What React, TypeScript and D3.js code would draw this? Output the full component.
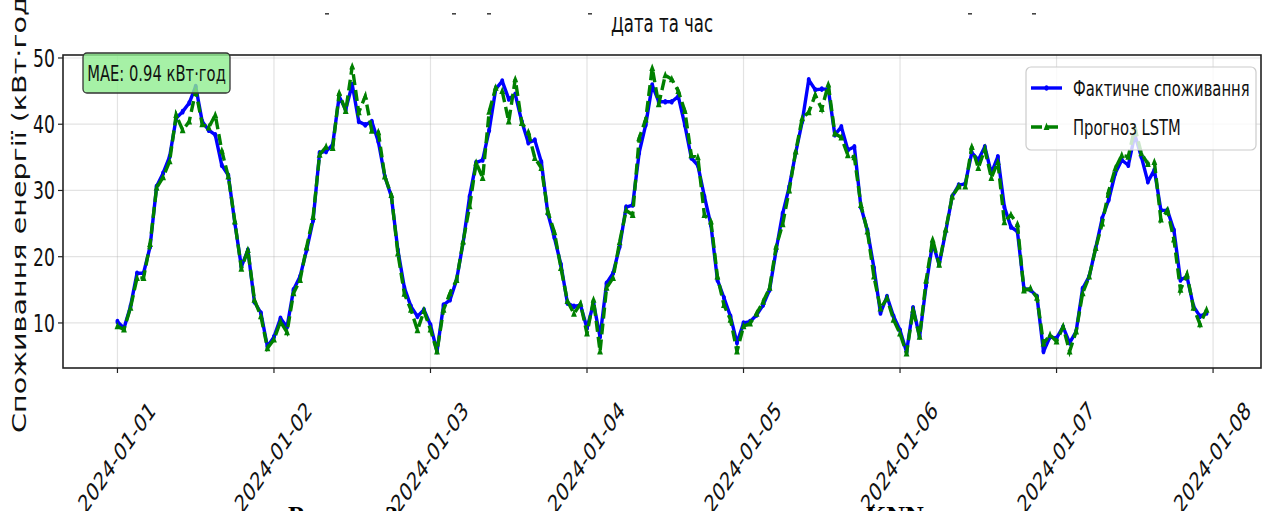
import React, { useEffect, useRef } from "react";
import * as d3 from "d3";

// hourly values, 2024-01-01 00:00 .. 2024-01-07 23:00
const actual = [
  10.2, 9.2, 12.5, 17.5, 17.5, 21.5, 30.6, 32.6, 35.1, 40.9, 41.9, 43.2, 45.7, 40.4, 39.1, 38.4, 33.8, 32.3, 25.1, 18.5, 21.0, 13.2, 11.5, 6.4,
  7.9, 10.7, 9.4, 15.0, 17.0, 21.0, 25.5, 35.7, 35.9, 36.9, 44.2, 42.2, 46.0, 40.4, 39.9, 40.4, 37.4, 32.1, 29.1, 21.0, 15.3, 12.5, 11.0, 12.0,
  9.7, 5.7, 12.7, 13.5, 16.5, 22.1, 29.1, 34.2, 34.6, 39.1, 45.3, 46.5, 43.8, 44.5, 40.4, 37.2, 37.6, 34.3, 26.5, 22.9, 18.8, 13.0, 12.5, 12.7,
  9.2, 13.0, 7.9, 16.0, 17.5, 21.5, 27.5, 27.8, 35.7, 39.9, 45.9, 43.4, 43.4, 43.4, 44.2, 39.9, 34.9, 33.8, 29.1, 24.8, 16.5, 13.8, 11.0, 7.0,
  10.0, 10.2, 11.2, 12.7, 15.0, 21.0, 26.5, 30.5, 35.7, 40.4, 46.7, 45.2, 45.3, 45.3, 38.4, 39.6, 36.1, 36.6, 27.5, 24.0, 18.3, 11.5, 14.0, 11.0,
  8.9, 5.6, 12.3, 7.9, 15.7, 22.1, 18.8, 23.8, 29.1, 30.8, 31.0, 35.7, 34.6, 36.6, 32.6, 35.1, 27.5, 24.5, 23.8, 15.2, 15.0, 14.0, 5.7, 7.9,
  7.7, 9.4, 7.0, 8.7, 15.2, 17.0, 21.3, 25.8, 28.6, 32.6, 34.6, 33.8, 38.4, 35.1, 31.3, 33.1, 27.0, 27.0, 24.0, 16.5, 17.0, 12.5, 11.0, 11.5,
];

const forecast = [
  9.5, 9.0, 12.3, 16.8, 16.8, 21.9, 30.4, 32.0, 34.4, 41.4, 39.1, 40.4, 45.0, 40.0, 39.5, 41.4, 36.0, 32.1, 25.3, 18.2, 21.0, 13.5, 11.0, 6.2,
  7.5, 10.2, 8.6, 14.5, 16.5, 21.4, 26.0, 35.4, 36.6, 36.4, 44.7, 42.0, 48.7, 41.8, 44.2, 39.0, 38.8, 32.1, 29.3, 20.5, 14.4, 12.0, 8.9, 11.8,
  9.0, 5.7, 12.0, 14.5, 16.5, 22.3, 27.6, 34.2, 31.9, 41.9, 45.5, 45.0, 40.4, 46.8, 40.2, 38.8, 34.9, 33.4, 26.8, 23.7, 18.3, 13.3, 11.4, 12.9,
  8.4, 13.5, 5.7, 15.3, 16.8, 22.2, 27.0, 26.3, 37.9, 40.7, 48.5, 43.0, 47.4, 46.8, 45.0, 42.0, 35.3, 35.0, 26.3, 25.3, 17.0, 12.7, 10.5, 5.7,
  9.5, 9.9, 11.4, 13.2, 15.3, 21.5, 24.9, 30.0, 35.9, 40.9, 41.8, 44.4, 42.3, 46.0, 38.6, 38.0, 35.3, 35.0, 27.8, 23.8, 17.0, 12.2, 13.7, 10.5,
  8.4, 5.4, 12.0, 7.9, 16.4, 22.6, 18.8, 24.1, 29.1, 30.6, 30.6, 36.6, 33.4, 36.2, 31.9, 34.3, 25.2, 26.3, 24.9, 14.9, 15.2, 13.8, 6.9, 8.2,
  7.2, 9.4, 5.7, 8.7, 14.5, 17.0, 21.3, 25.0, 29.9, 33.3, 35.3, 35.1, 39.5, 35.6, 34.0, 34.3, 25.6, 27.0, 22.6, 15.0, 17.3, 12.3, 9.8, 12.0,
];

const dayLabels = [
  "2024-01-01", "2024-01-02", "2024-01-03", "2024-01-04",
  "2024-01-05", "2024-01-06", "2024-01-07", "2024-01-08",
];
const yTicks = [10, 20, 30, 40, 50];
const seriesNames = ["Фактичне споживання", "Прогноз LSTM"];
const maeText = "MAE: 0.94 кВт·год";
const yLabel = "Споживання енергії (кВт·год)";
const xLabelAbove = "Дата та час";
const captionParts = ["Рисунок", "3 – результати прогнозування методом", "KNN"];

const W = 1266;
const H = 511;
const SX = 0.69; // the picture is squeezed horizontally
const FONT = "'DejaVu Sans', sans-serif";

const App = () => {
  const svgRef = useRef(null);

  useEffect(() => {
    const svg = d3.select(svgRef.current);
    svg.selectAll("*").remove();

    const box = { left: 63, right: 1261, top: 55, bottom: 368 };
    const hour = 3600 * 1000;
    const start = Date.UTC(2024, 0, 1);
    const times = actual.map((_, i) => new Date(start + i * hour));
    const span = (actual.length - 1) * hour;

    const x = d3
      .scaleUtc()
      .domain([start - 0.05 * span, start + 1.05 * span])
      .range([box.left, box.right]);
    const y = d3.scaleLinear().domain([3.2, 50.45]).range([box.bottom, box.top]);
    const days = dayLabels.map((d) => new Date(d + "T00:00:00Z"));

    // residue of the figure above (its top is cut away)
    const clip = svg.append("defs").append("clipPath").attr("id", "topclip");
    clip.append("rect").attr("x", 0).attr("y", 17).attr("width", W).attr("height", H);
    svg
      .append("g")
      .attr("clip-path", "url(#topclip)")
      .append("text")
      .attr("transform", `translate(662,32) scale(${SX},1)`)
      .attr("text-anchor", "middle")
      .attr("font-family", FONT)
      .attr("font-size", 24)
      .attr("fill", "#111")
      .text(xLabelAbove);
    [325, 452, 487, 588, 968, 1032].forEach((px) => {
      svg.append("rect").attr("x", px).attr("y", 13).attr("width", 4).attr("height", 1.6).attr("fill", "#444");
    });

    // grid
    const grid = svg.append("g").attr("stroke", "#b0b0b0").attr("stroke-opacity", 0.35).attr("stroke-width", 1.2);
    days.forEach((d) => {
      grid.append("line").attr("x1", x(d)).attr("x2", x(d)).attr("y1", box.top).attr("y2", box.bottom);
    });
    yTicks.forEach((v) => {
      grid.append("line").attr("x1", box.left).attr("x2", box.right).attr("y1", y(v)).attr("y2", y(v));
    });

    const line = d3
      .line()
      .x((d, i) => x(times[i]))
      .y((d) => y(d));

    // actual
    svg
      .append("path")
      .datum(actual)
      .attr("fill", "none")
      .attr("stroke", "#0000ff")
      .attr("stroke-width", 3.4)
      .attr("stroke-linejoin", "round")
      .attr("d", line);
    svg
      .append("g")
      .selectAll("ellipse")
      .data(actual)
      .join("ellipse")
      .attr("cx", (d, i) => x(times[i]))
      .attr("cy", (d) => y(d))
      .attr("rx", 2.8 * SX)
      .attr("ry", 2.8)
      .attr("fill", "#0000ff");

    // forecast
    svg
      .append("path")
      .datum(forecast)
      .attr("fill", "none")
      .attr("stroke", "#008000")
      .attr("stroke-width", 3.4)
      .attr("stroke-dasharray", "11 5")
      .attr("d", line);
    const tri = `M0,-4.5L${4.2 * SX},3L${-4.2 * SX},3Z`;
    svg
      .append("g")
      .selectAll("path")
      .data(forecast)
      .join("path")
      .attr("transform", (d, i) => `translate(${x(times[i])},${y(d)})`)
      .attr("d", tri)
      .attr("fill", "#008000");

    // frame
    svg
      .append("rect")
      .attr("x", box.left)
      .attr("y", box.top)
      .attr("width", box.right - box.left)
      .attr("height", box.bottom - box.top)
      .attr("fill", "none")
      .attr("stroke", "#222")
      .attr("stroke-width", 1.6);

    // y axis
    const yAxis = svg.append("g").attr("font-family", FONT).attr("font-size", 25).attr("fill", "#111");
    yTicks.forEach((v) => {
      yAxis.append("line").attr("x1", box.left - 5).attr("x2", box.left).attr("y1", y(v)).attr("y2", y(v)).attr("stroke", "#222").attr("stroke-width", 1.2);
      yAxis
        .append("text")
        .attr("transform", `translate(${box.left - 8},${y(v)}) scale(${SX},1)`)
        .attr("text-anchor", "end")
        .attr("dy", "0.36em")
        .text(v);
    });

    // x axis
    const xAxis = svg.append("g").attr("font-family", FONT).attr("font-size", 25).attr("fill", "#111");
    days.forEach((d, i) => {
      xAxis.append("line").attr("x1", x(d)).attr("x2", x(d)).attr("y1", box.bottom).attr("y2", box.bottom + 5).attr("stroke", "#222").attr("stroke-width", 1.2);
      xAxis
        .append("text")
        .attr("transform", `translate(${x(d) + 39},412) scale(${SX},1) rotate(-45)`)
        .attr("text-anchor", "end")
        .text(dayLabels[i]);
    });

    svg
      .append("text")
      .attr("transform", `translate(26,209) scale(${SX},1) rotate(-90)`)
      .attr("text-anchor", "middle")
      .attr("font-family", FONT)
      .attr("font-size", 28.6)
      .attr("fill", "#111")
      .text(yLabel);

    // MAE box
    svg
      .append("rect")
      .attr("x", 83)
      .attr("y", 53)
      .attr("width", 147)
      .attr("height", 40)
      .attr("rx", 4)
      .attr("fill", "#90ee90")
      .attr("fill-opacity", 0.8)
      .attr("stroke", "#333")
      .attr("stroke-width", 1.3);
    svg
      .append("text")
      .attr("transform", `translate(156.5,81) scale(${SX},1)`)
      .attr("text-anchor", "middle")
      .attr("font-family", FONT)
      .attr("font-size", 21.4)
      .attr("fill", "#111")
      .text(maeText);

    // legend
    const lg = svg.append("g");
    lg.append("rect")
      .attr("x", 1026)
      .attr("y", 67)
      .attr("width", 230)
      .attr("height", 83)
      .attr("rx", 5)
      .attr("fill", "#fff")
      .attr("fill-opacity", 0.8)
      .attr("stroke", "#cccccc")
      .attr("stroke-width", 1.2);
    const rows = [
      { name: seriesNames[0], color: "#0000ff", dash: null, y: 88 },
      { name: seriesNames[1], color: "#008000", dash: "11 5", y: 127 },
    ];
    rows.forEach((r, i) => {
      lg.append("line")
        .attr("x1", 1031)
        .attr("x2", 1062)
        .attr("y1", r.y)
        .attr("y2", r.y)
        .attr("stroke", r.color)
        .attr("stroke-width", 3.4)
        .attr("stroke-dasharray", r.dash);
      if (i === 0) {
        lg.append("ellipse").attr("cx", 1046.5).attr("cy", r.y).attr("rx", 2.8 * SX).attr("ry", 2.8).attr("fill", r.color);
      } else {
        lg.append("path").attr("transform", `translate(1046.5,${r.y})`).attr("d", tri).attr("fill", r.color);
      }
      lg.append("text")
        .attr("transform", `translate(1073,${r.y + 7.5}) scale(${SX},1)`)
        .attr("font-family", FONT)
        .attr("font-size", 21.4)
        .attr("fill", "#111")
        .text(r.name);
    });

    // caption of the document below, mostly cut off
    const cap = svg
      .append("text")
      .attr("y", 524)
      .attr("font-family", "'Liberation Serif', serif")
      .attr("font-weight", "bold")
      .attr("font-size", 26)
      .attr("fill", "#000");
    [288, 385, 866].forEach((px, i) => {
      cap.append("tspan").attr("x", px).text(captionParts[i]);
    });
  }, []);

  return (
    <svg
      ref={svgRef}
      width={W}
      height={H}
      style={{ position: "absolute", left: 0, top: 0, background: "#fff" }}
    ></svg>
  );
};

export default App;
